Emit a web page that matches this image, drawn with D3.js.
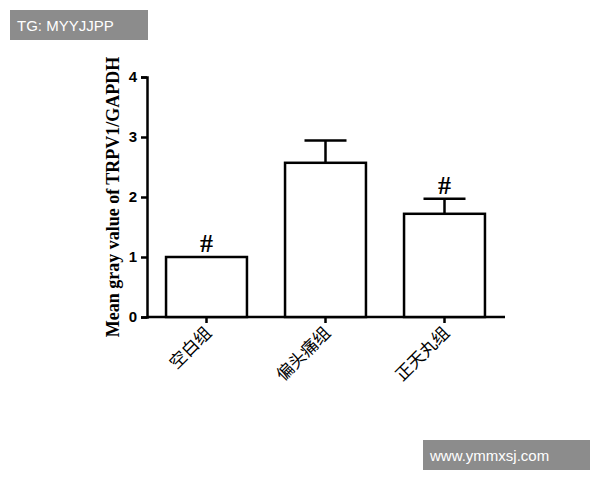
<!DOCTYPE html>
<html><head><meta charset="utf-8">
<script src="https://cdn.jsdelivr.net/npm/d3@7"></script>
<style>body{margin:0;background:#fff}</style>
</head><body>
<svg id="c" width="600" height="480"></svg>
<script>
// chart values
var groups = ["空白组", "偏头痛组", "正天丸组"];
var means = [1.0, 2.57, 1.72];
var errs = [0, 0.37, 0.25];
var marks = ["#", "", "#"];
var yTicks = [0, 1, 2, 3, 4];

var svg = d3.select("#c");
var y = d3.scaleLinear().domain([0, 4]).range([317, 77]);
var x = d3.scaleBand().domain(groups).range([147, 504]).paddingInner(0.32).paddingOuter(0.16);

var yAxis = svg.append("g").attr("transform", "translate(147,0)")
    .call(d3.axisLeft(y).tickValues(yTicks).tickSize(6).tickPadding(4).tickFormat(d3.format("d")));
yAxis.select(".domain").attr("stroke-width", 2.5);
yAxis.selectAll("line").attr("stroke-width", 2.5);
yAxis.selectAll("text").style("font", "bold 15px Arial, 'Liberation Sans'");

var xAxis = svg.append("g").attr("transform", "translate(0,317)")
    .call(d3.axisBottom(x).tickSize(6).tickFormat(""));
xAxis.select(".domain").attr("d", "M147,0H505").attr("stroke-width", 2.5);
xAxis.selectAll("line").attr("stroke-width", 2.5);

svg.selectAll(".lbl").data(groups).enter().append("text")
    .attr("transform", d => "translate(" + (x(d) + x.bandwidth() / 2 + 6) + ",334) rotate(-45)")
    .attr("text-anchor", "end")
    .style("font", "17px 'Noto Sans CJK SC'")
    .text(d => d);

// error bars (upper only)
svg.selectAll(".eb").data(groups).enter().append("path")
    .filter((d, i) => errs[i] > 0)
    .attr("d", function (d) {
        var i = groups.indexOf(d), cx = x(d) + x.bandwidth() / 2, t = y(means[i] + errs[i]);
        return "M" + cx + "," + y(means[i]) + "V" + t + "M" + (cx - 21) + "," + t + "H" + (cx + 21);
    })
    .attr("stroke", "#000").attr("stroke-width", 2.5).attr("fill", "none");

svg.selectAll(".bar").data(groups).enter().append("rect")
    .attr("x", d => x(d)).attr("width", x.bandwidth())
    .attr("y", (d, i) => y(means[i])).attr("height", (d, i) => y(0) - y(means[i]))
    .attr("fill", "#fff").attr("stroke", "#000").attr("stroke-width", 2.5);

svg.selectAll(".mk").data(groups).enter().append("text")
    .attr("x", d => x(d) + x.bandwidth() / 2)
    .attr("y", (d, i) => y(means[i] + errs[i]) - 5)
    .attr("text-anchor", "middle")
    .style("font", "bold 26px 'Liberation Serif'")
    .text((d, i) => marks[i]);

svg.append("text").attr("transform", "translate(119,197) rotate(-90)")
    .attr("text-anchor", "middle")
    .style("font", "bold 18px 'Liberation Serif'")
    .text("Mean gray value of TRPV1/GAPDH");

// watermarks
svg.append("rect").attr("x", 10).attr("y", 10).attr("width", 138).attr("height", 30).attr("fill", "#8c8c8c");
svg.append("text").attr("x", 17).attr("y", 31).attr("fill", "#fff").style("font", "15px Arial, 'Liberation Sans'").text("TG: MYYJJPP");
svg.append("rect").attr("x", 423).attr("y", 440).attr("width", 167).attr("height", 30).attr("fill", "#8c8c8c");
svg.append("text").attr("x", 430).attr("y", 461).attr("fill", "#fff").style("font", "15px Arial, 'Liberation Sans'").text("www.ymmxsj.com");
</script>
</body></html>
